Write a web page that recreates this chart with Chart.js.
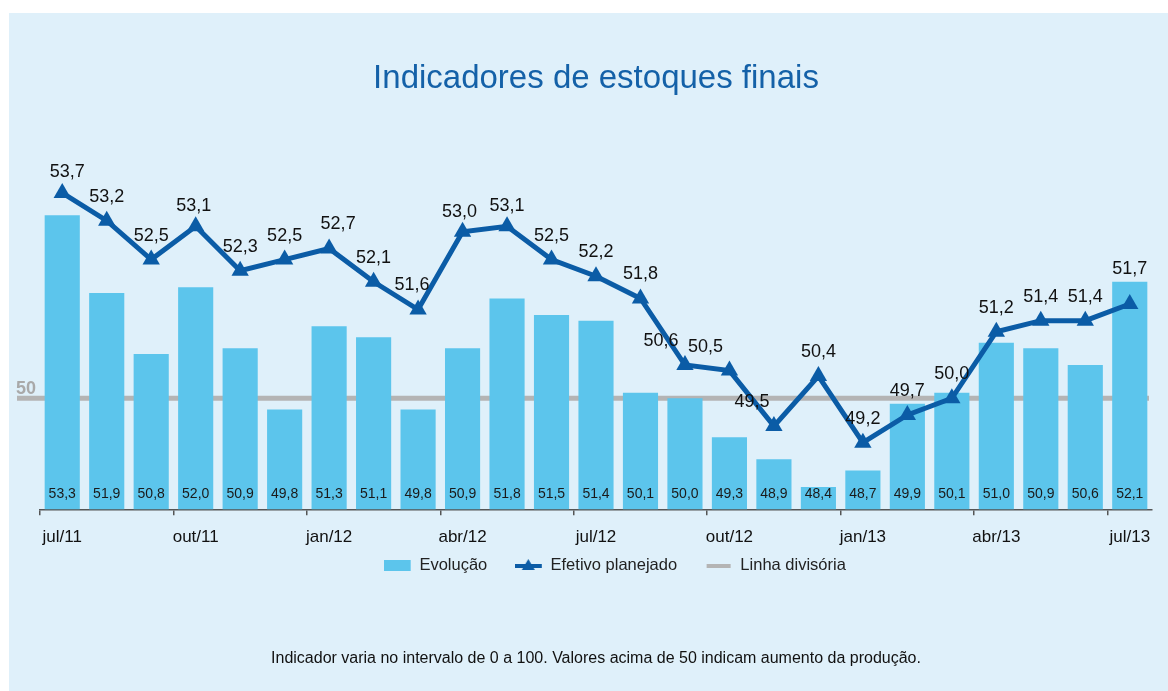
<!DOCTYPE html>
<html>
<head>
<meta charset="utf-8">
<script src="https://cdn.jsdelivr.net/npm/chart.js@4.4.1/dist/chart.umd.min.js"></script>
<style>
html,body{margin:0;padding:0;background:#ffffff;}
#wrap{width:1168px;height:691px;position:relative;}
</style>
</head>
<body>
<div id="wrap"><canvas id="c" width="1168" height="691"></canvas></div>
<script>
// ---- data ----
const months = ['jul/11','ago/11','set/11','out/11','nov/11','dez/11','jan/12','fev/12','mar/12','abr/12','mai/12','jun/12','jul/12','ago/12','set/12','out/12','nov/12','dez/12','jan/13','fev/13','mar/13','abr/13','mai/13','jun/13','jul/13'];
const evolucao = [53.3,51.9,50.8,52.0,50.9,49.8,51.3,51.1,49.8,50.9,51.8,51.5,51.4,50.1,50.0,49.3,48.9,48.4,48.7,49.9,50.1,51.0,50.9,50.6,52.1];
const efetivoPlanejado = [53.7,53.2,52.5,53.1,52.3,52.5,52.7,52.1,51.6,53.0,53.1,52.5,52.2,51.8,50.6,50.5,49.5,50.4,49.2,49.7,50.0,51.2,51.4,51.4,51.7];
const linhaDivisoria = 50;
const seriesNames = ['Evolução','Efetivo planejado','Linha divisória'];
const titleText = 'Indicadores de estoques finais';
const noteText = 'Indicador varia no intervalo de 0 a 100. Valores acima de 50 indicam aumento da produção.';

// ---- style ----
const FONT = "'Liberation Sans', Arial, Helvetica, sans-serif";
const BAR_COLOR = '#5cc5ec';
const LINE_COLOR = '#0b5ca6';
const DIV_COLOR = '#b4b4b4';
const PANEL_COLOR = '#dff0fa';
// label nudges for the line labels [dx, dy]
const lineLabelNudge = {0:[5,3],3:[-2,4],6:[9,0],8:[-6,0],9:[-3,4],10:[0,4],14:[-24,0],15:[-24,0],16:[-22,0],24:[0,-11]};
const LEGEND_SHIFT = { x: 19, y: -30 };

const fmt = v => v.toFixed(1).replace('.', ',');

function makeIcon(kind){
  const c = document.createElement('canvas');
  c.width = 28; c.height = 14;
  const x = c.getContext('2d');
  if (kind === 'bar'){
    x.fillStyle = BAR_COLOR; x.fillRect(0,1,27,11);
  } else if (kind === 'line'){
    x.fillStyle = LINE_COLOR; x.fillRect(0,5,27,4);
    x.beginPath(); x.moveTo(13.5,0); x.lineTo(20,11); x.lineTo(7,11); x.closePath(); x.fill();
  } else {
    x.fillStyle = DIV_COLOR; x.fillRect(2,5,24,4);
  }
  return c;
}
const icons = [makeIcon('bar'), makeIcon('line'), makeIcon('div')];

const panelPlugin = {
  id: 'panel',
  beforeDraw(chart){
    const ctx = chart.ctx;
    ctx.save();
    ctx.fillStyle = '#ffffff';
    ctx.fillRect(0,0,chart.width,chart.height);
    ctx.fillStyle = PANEL_COLOR;
    ctx.fillRect(9,13,chart.width-9,chart.height-13);
    ctx.restore();
  }
};

const legendShiftPlugin = {
  id: 'legendShift',
  afterLayout(chart){
    const lg = chart.legend;
    if (!lg) return;
    lg.top += LEGEND_SHIFT.y; lg.bottom += LEGEND_SHIFT.y;
    lg.left += LEGEND_SHIFT.x; lg.right += LEGEND_SHIFT.x;
  }
};

const dividerPlugin = {
  id: 'divider',
  beforeDatasetsDraw(chart){
    const ctx = chart.ctx, y = chart.scales.y.getPixelForValue(linhaDivisoria);
    const area = chart.chartArea;
    ctx.save();
    ctx.strokeStyle = DIV_COLOR; ctx.lineWidth = 5;
    ctx.beginPath(); ctx.moveTo(17, y); ctx.lineTo(area.right - 3, y); ctx.stroke();
    ctx.fillStyle = '#a9a9a9';
    ctx.font = "bold 18px " + FONT;
    ctx.textAlign = 'left'; ctx.textBaseline = 'alphabetic';
    ctx.fillText(String(linhaDivisoria), 16, y - 4);
    ctx.restore();
  }
};

const valueLabelPlugin = {
  id: 'valueLabels',
  afterDatasetsDraw(chart){
    const ctx = chart.ctx, area = chart.chartArea;
    ctx.save();
    ctx.textAlign = 'center';
    ctx.textBaseline = 'middle';
    ctx.fillStyle = '#1a1a1a';
    ctx.font = "14px " + FONT;
    chart.getDatasetMeta(0).data.forEach((el, i) => {
      ctx.fillText(fmt(evolucao[i]), el.x, area.bottom - 15);
    });
    ctx.fillStyle = '#111111';
    ctx.font = "18px " + FONT;
    chart.getDatasetMeta(1).data.forEach((el, i) => {
      const n = lineLabelNudge[i] || [0,0];
      ctx.fillText(fmt(efetivoPlanejado[i]), el.x + n[0], el.y - 24 + n[1]);
    });
    ctx.restore();
  }
};

new Chart(document.getElementById('c'), {
  data: {
    labels: months,
    datasets: [
      {
        type: 'bar', label: seriesNames[0], data: evolucao,
        backgroundColor: BAR_COLOR, borderWidth: 0,
        barPercentage: 0.79, categoryPercentage: 1.0, order: 2
      },
      {
        type: 'line', label: seriesNames[1], data: efetivoPlanejado,
        borderColor: LINE_COLOR, backgroundColor: LINE_COLOR, borderWidth: 5,
        pointStyle: 'triangle', pointRadius: 10, pointBorderWidth: 0,
        pointBackgroundColor: LINE_COLOR, tension: 0, clip: false, order: 1
      },
      {
        type: 'line', label: seriesNames[2], data: [],
        borderColor: DIV_COLOR, backgroundColor: DIV_COLOR, borderWidth: 5,
        pointRadius: 0, order: 3
      }
    ]
  },
  options: {
    responsive: false,
    animation: false,
    devicePixelRatio: 1,
    layout: { padding: { left: 40, right: 16, top: 0, bottom: 0 } },
    scales: {
      x: {
        offset: true,
        grid: {
          offset: true, drawOnChartArea: false, drawTicks: true, tickLength: 6,
          lineWidth: 1.5,
          color: ctx => (ctx.index % 3 === 0 ? '#555555' : 'rgba(0,0,0,0)')
        },
        border: { display: true, color: '#555555', width: 1.5 },
        ticks: {
          autoSkip: false, maxRotation: 0, padding: 12,
          color: '#111111', font: { family: FONT, size: 17 },
          callback: function(v, i){ return i % 3 === 0 ? this.getLabelForValue(v) : ''; }
        }
      },
      y: { display: false, min: 48, max: 54.5 }
    },
    plugins: {
      tooltip: { enabled: false },
      title: {
        display: true, text: titleText, color: '#1461a8',
        font: { family: FONT, size: 33, weight: 'normal' },
        padding: { top: 59.2, bottom: 49.8 }
      },
      subtitle: {
        display: true, position: 'bottom', text: noteText, color: '#111111',
        font: { family: "'Liberation Sans Narrow', 'Arial Narrow', " + FONT, size: 16, weight: 'normal' },
        padding: { top: 35.2, bottom: 22.4 }
      },
      legend: {
        display: true, position: 'bottom',
        labels: {
          usePointStyle: true, pointStyleWidth: 27, padding: 28,
          color: '#222222', font: { family: FONT, size: 16.5 },
          sort: (a, b) => a.datasetIndex - b.datasetIndex,
          generateLabels: chart => chart.data.datasets.map((ds, i) => ({
            text: ds.label, pointStyle: icons[i], datasetIndex: i,
            fillStyle: ds.backgroundColor, strokeStyle: ds.borderColor,
            lineWidth: 0, hidden: false, fontColor: '#222222'
          }))
        }
      }
    }
  },
  plugins: [panelPlugin, legendShiftPlugin, dividerPlugin, valueLabelPlugin]
});
</script>
</body>
</html>
